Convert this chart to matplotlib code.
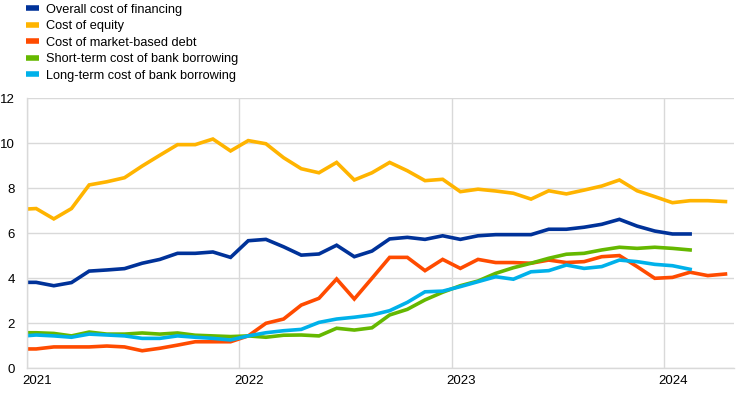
import numpy as np
import matplotlib
matplotlib.use("Agg")
import matplotlib.pyplot as plt

plt.rcParams['font.family'] = ['Liberation Sans', 'DejaVu Sans']

# monthly data, Dec 2020 .. Apr 2024 (percentages per annum)
months = ['2020-12'] + ['%d-%02d' % (y, m) for y in (2021, 2022, 2023) for m in range(1, 13)] + \
         ['2024-%02d' % m for m in range(1, 5)]

overall = [3.82, 3.82, 3.67, 3.81, 4.32, 4.37, 4.43, 4.67, 4.84, 5.11, 5.11, 5.17, 4.93,
           5.67, 5.73, 5.40, 5.03, 5.08, 5.47, 4.96, 5.21, 5.75, 5.82, 5.73, 5.89,
           5.73, 5.89, 5.94, 5.94, 5.94, 6.18, 6.18, 6.27, 6.40, 6.62, 6.32, 6.10,
           5.97, 5.97, None, None]
equity = [7.06, 7.10, 6.64, 7.10, 8.15, 8.29, 8.47, 8.99, 9.47, 9.94, 9.94, 10.19, 9.66,
          10.12, 9.98, 9.36, 8.87, 8.69, 9.15, 8.37, 8.69, 9.15, 8.78, 8.34, 8.40,
          7.85, 7.96, 7.88, 7.78, 7.52, 7.89, 7.75, 7.92, 8.10, 8.37, 7.89, 7.63,
          7.36, 7.45, 7.45, 7.41]
market_debt = [0.86, 0.86, 0.95, 0.95, 0.95, 0.99, 0.95, 0.78, 0.89, 1.03, 1.18, 1.18, 1.18,
               1.44, 2.00, 2.19, 2.81, 3.11, 3.97, 3.08, 4.00, 4.93, 4.93, 4.34, 4.84,
               4.44, 4.84, 4.70, 4.70, 4.67, 4.81, 4.70, 4.74, 4.96, 5.01, 4.52, 4.00,
               4.04, 4.27, 4.12, 4.19]
short_term = [1.58, 1.58, 1.55, 1.44, 1.61, 1.52, 1.52, 1.57, 1.52, 1.57, 1.47, 1.44, 1.41,
              1.44, 1.38, 1.47, 1.48, 1.44, 1.78, 1.70, 1.80, 2.37, 2.62, 3.04, 3.38,
              3.67, 3.88, 4.22, 4.47, 4.67, 4.89, 5.07, 5.11, 5.26, 5.38, 5.33, 5.38,
              5.33, 5.26, None, None]
long_term = [1.42, 1.48, 1.44, 1.38, 1.52, 1.48, 1.44, 1.33, 1.33, 1.44, 1.38, 1.33, 1.26,
             1.44, 1.58, 1.67, 1.73, 2.04, 2.19, 2.27, 2.37, 2.56, 2.93, 3.40, 3.43,
             3.63, 3.85, 4.07, 3.96, 4.29, 4.34, 4.59, 4.44, 4.52, 4.81, 4.74, 4.62,
             4.56, 4.40, None, None]

labels = ['Overall cost of financing', 'Cost of equity', 'Cost of market-based debt',
          'Short-term cost of bank borrowing', 'Long-term cost of bank borrowing']
colors = ['#003299', '#ffb400', '#ff4b00', '#65b800', '#00b1ea']
years = ['2021', '2022', '2023', '2024']

# x in months since Jan 2021, plotted at mid-month
x = np.arange(len(months)) - 1 + 0.5

fig = plt.figure(figsize=(7.42, 3.93), dpi=100)
ax = fig.add_axes([27.3 / 742, 24.7 / 393, 707 / 742, 270 / 393])

for series, c, lab in zip([overall, equity, market_debt, short_term, long_term], colors, labels):
    y = np.array([np.nan if v is None else v for v in series], dtype=float)
    ax.plot(x, y, color=c, lw=2.6, label=lab, solid_joinstyle='miter')

ax.set_xlim(0, 40)
ax.set_ylim(0, 12)
ax.set_yticks(np.arange(0, 13, 2))
ax.set_xticks([0, 12, 24, 36])
ax.set_xticklabels([])
ax.set_xticks([0.53, 12.53, 24.53, 36.53], minor=True)
ax.set_xticklabels(years, minor=True)
ax.tick_params(axis='x', which='both', length=0, pad=5, labelsize=9.5, colors='black')
ax.tick_params(axis='y', length=0, pad=9, labelsize=9.5)
ax.grid(True, which='major', color='#d9d9d9', lw=1)
ax.set_axisbelow(True)
for s in ['top', 'right']:
    ax.spines[s].set_visible(False)
for s in ['left', 'bottom']:
    ax.spines[s].set_color('#d9d9d9')
    ax.spines[s].set_linewidth(1)

handles, labs = ax.get_legend_handles_labels()
leg = fig.legend(handles, labs, loc='upper left', bbox_to_anchor=(26 / 742, 1 - 3.5 / 393),
                 frameon=False, fontsize=9.2, handlelength=1.05, handletextpad=0.55,
                 labelspacing=0.36, borderaxespad=0.0, borderpad=0.0)
for line in leg.get_lines():
    line.set_linewidth(4)
    line.set_solid_capstyle('butt')

fig.savefig('out.png', dpi=100)
